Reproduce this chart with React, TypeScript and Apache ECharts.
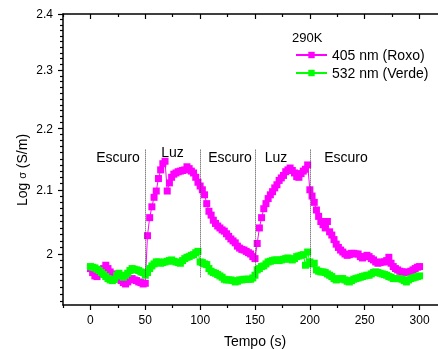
import React, { useEffect, useRef } from 'react';
import * as echarts from 'echarts';

// sampling times (s)
const timeSec: number[] = Array.from({ length: 151 }, (_, i) => i * 2);

// Log sigma values, 405 nm (magenta)
const roxo: number[] = [
  1.978, 1.972, 1.967, 1.966, 1.970, 1.974, 1.978, 1.983, 1.978, 1.973,
  1.970, 1.966, 1.965, 1.962, 1.960, 1.957, 1.955, 1.958, 1.962, 1.963,
  1.961, 1.960, 1.958, 1.957, 1.955, 1.956, 2.028, 2.056, 2.073, 2.088,
  2.098, 2.118, 2.132, 2.142, 2.146, 2.098, 2.111, 2.120, 2.125, 2.127,
  2.129, 2.130, 2.131, 2.132, 2.137, 2.134, 2.130, 2.127, 2.120, 2.112,
  2.106, 2.100, 2.092, 2.078, 2.066, 2.060, 2.052, 2.047, 2.043, 2.040,
  2.037, 2.035, 2.031, 2.027, 2.023, 2.020, 2.017, 2.012, 2.009, 2.007,
  2.006, 2.004, 2.002, 2.000, 1.996, 1.993, 2.016, 2.040, 2.056, 2.070,
  2.078, 2.086, 2.092, 2.097, 2.103, 2.108, 2.115, 2.119, 2.123, 2.129,
  2.132, 2.135, 2.131, 2.127, 2.121, 2.120, 2.126, 2.130, 2.133, 2.140,
  2.100, 2.090, 2.080, 2.068, 2.058, 2.050, 2.045, 2.040, 2.050, 2.034,
  2.029, 2.022, 2.015, 2.010, 2.006, 2.003, 2.000, 1.998, 1.999, 2.001,
  2.001, 2.000, 2.000, 1.996, 1.994, 1.996, 1.998, 1.996, 1.993, 1.991,
  1.988, 1.986, 1.987, 1.988, 1.988, 1.990, 1.995, 1.986, 1.981, 1.978,
  1.976, 1.974, 1.973, 1.972, 1.973, 1.972, 1.974, 1.976, 1.978, 1.980,
  1.981,
];

// Log sigma values, 532 nm (green)
const verde: number[] = [
  1.981, 1.980, 1.979, 1.977, 1.975, 1.972, 1.969, 1.966, 1.963, 1.961,
  1.960, 1.962, 1.968, 1.971, 1.967, 1.965, 1.968, 1.971, 1.975, 1.978,
  1.977, 1.976, 1.975, 1.973, 1.972, 1.968, 1.972, 1.978, 1.982, 1.985,
  1.988, 1.988, 1.986, 1.987, 1.988, 1.989, 1.990, 1.991, 1.989, 1.988,
  1.987, 1.986, 1.990, 1.993, 1.995, 1.996, 1.998, 1.999, 2.002, 2.004,
  1.988, 1.987, 1.985, 1.984, 1.978, 1.974, 1.972, 1.971, 1.969, 1.967,
  1.965, 1.962, 1.961, 1.961, 1.961, 1.960, 1.958, 1.959, 1.961, 1.961,
  1.962, 1.962, 1.962, 1.962, 1.964, 1.968, 1.976, 1.978, 1.981, 1.982,
  1.985, 1.988, 1.989, 1.990, 1.991, 1.991, 1.990, 1.991, 1.992, 1.993,
  1.994, 1.992, 1.991, 1.993, 1.996, 1.997, 1.998, 1.999, 1.983, 2.003,
  1.988, 1.985, 1.986, 1.976, 1.974, 1.973, 1.973, 1.972, 1.970, 1.968,
  1.966, 1.963, 1.961, 1.962, 1.963, 1.963, 1.961, 1.959, 1.958, 1.960,
  1.962, 1.963, 1.964, 1.965, 1.966, 1.967, 1.968, 1.968, 1.970, 1.972,
  1.973, 1.972, 1.971, 1.970, 1.969, 1.968, 1.966, 1.965, 1.963, 1.963,
  1.963, 1.963, 1.962, 1.960, 1.958, 1.961, 1.963, 1.964, 1.965, 1.966,
  1.967,
];

const seriesNames = ['405 nm (Roxo)', '532 nm (Verde)'];
const legendTitle = '290K';
const xTicks = [0, 50, 100, 150, 200, 250, 300];
const xMinorTicks = [-25, 25, 75, 125, 175, 225, 275, 325];
const yTicks = [2.0, 2.1, 2.2, 2.3, 2.4];
const switchTimes = [50, 100, 150, 200];
const phaseLabels = ['Escuro', 'Luz', 'Escuro', 'Luz', 'Escuro'];

const FONT = '"Liberation Sans", Arial, sans-serif';
const L = (v: number) => Math.log10(v);

export default function App() {
  const ref = useRef<HTMLDivElement>(null);
  useEffect(() => {
    if (!ref.current) return;
    const chart = echarts.init(ref.current, undefined, { renderer: 'svg' });
    const yMin = L(1.924);
    const yMax = L(2.4);
    const yMinor: number[] = [];
    for (let k = 193; k <= 239; k++) {
      if (k % 10 !== 0) yMinor.push(L(k / 100));
    }
    const axisLine = { show: true, onZero: false, lineStyle: { color: '#000', width: 1.5 } };
    const noLine = { show: false, onZero: false };
    const tickStyle = { color: '#000', width: 1.2 };
    const baseX = { type: 'value', min: -25, max: 325, gridIndex: 0, splitLine: { show: false } };
    const mkData = (arr: number[]) => timeSec.map((t, i) => [t, L(arr[i])]);
    const phasePx = [
      { x: 118, y: 157 },
      { x: 172.5, y: 152 },
      { x: 230, y: 157 },
      { x: 276, y: 157 },
      { x: 346, y: 157 },
    ];
    chart.setOption({
      animation: false,
      grid: { left: 63, top: 14, width: 384, height: 291, containLabel: false, outerBoundsMode: 'none' },
      xAxis: [
        {
          ...baseX, position: 'bottom', axisLine,
          axisTick: { show: true, inside: false, length: 5, customValues: xTicks, lineStyle: tickStyle },
          axisLabel: { customValues: xTicks, margin: 9, fontSize: 12, color: '#000', fontFamily: FONT },
          name: 'Tempo (s)', nameLocation: 'middle', nameGap: 29,
          nameTextStyle: { fontSize: 14, color: '#000', fontFamily: FONT },
        },
        {
          ...baseX, position: 'bottom', axisLine: noLine,
          axisTick: { show: true, inside: false, length: 3, customValues: xMinorTicks, lineStyle: tickStyle },
          axisLabel: { show: false },
        },
        {
          ...baseX, position: 'top', axisLine,
          axisTick: { show: true, inside: true, length: 5, customValues: xTicks, lineStyle: tickStyle },
          axisLabel: { show: false },
        },
        {
          ...baseX, position: 'top', axisLine: noLine,
          axisTick: { show: true, inside: true, length: 3, customValues: xMinorTicks, lineStyle: tickStyle },
          axisLabel: { show: false },
        },
      ],
      yAxis: [
        {
          type: 'value', min: yMin, max: yMax, position: 'left', axisLine, splitLine: { show: false },
          axisTick: { show: true, inside: false, length: 5, customValues: yTicks.map(L), lineStyle: tickStyle },
          axisLabel: {
            customValues: yTicks.map(L), margin: 10, fontSize: 12, color: '#000', fontFamily: FONT,
            formatter: (v: number) => String(Math.round(Math.pow(10, v) * 10) / 10),
          },
        },
        {
          type: 'value', min: yMin, max: yMax, position: 'left', axisLine: noLine, splitLine: { show: false },
          axisTick: { show: true, inside: false, length: 3, customValues: yMinor, lineStyle: tickStyle },
          axisLabel: { show: false },
        },
      ],
      legend: {
        orient: 'vertical', left: 290, top: 43, itemWidth: 31, itemHeight: 8, itemGap: 4,
        data: seriesNames,
        textStyle: { fontSize: 14, color: '#000', fontFamily: FONT },
      },
      graphic: [
        {
          type: 'text', x: 292, y: 37,
          style: { text: legendTitle, fontSize: 13, fill: '#000', fontFamily: FONT, textVerticalAlign: 'middle' },
        },
        {
          type: 'text', x: 22, y: 170, rotation: Math.PI / 2,
          style: {
            text: 'Log {s|σ} (S/m)', fontSize: 14, fill: '#000', fontFamily: FONT,
            align: 'center', verticalAlign: 'middle',
            rich: { s: { fontSize: 11, fill: '#000', fontFamily: FONT } },
          },
        },
        ...phaseLabels.map((t, i) => ({
          type: 'text', x: phasePx[i].x, y: phasePx[i].y,
          style: { text: t, fontSize: 14, fill: '#000', fontFamily: FONT, align: 'center', verticalAlign: 'middle' },
        })),
      ],
      series: [
        {
          name: seriesNames[0], type: 'line', xAxisIndex: 0, yAxisIndex: 0,
          data: mkData(roxo), symbol: 'rect', symbolSize: 7,
          itemStyle: { color: '#ff00ff' }, lineStyle: { color: '#ff00ff', width: 1 },
          markLine: {
            silent: true, symbol: 'none', label: { show: false },
            lineStyle: { color: '#444', type: 'dotted', width: 1 },
            data: switchTimes.map((t) => [{ coord: [t, L(2.165)] }, { coord: [t, L(1.964)] }]),
          },
          z: 2,
        },
        {
          name: seriesNames[1], type: 'line', xAxisIndex: 0, yAxisIndex: 0,
          data: mkData(verde), symbol: 'rect', symbolSize: 7,
          itemStyle: { color: '#00ff00' }, lineStyle: { color: '#00ff00', width: 1 },
          z: 3,
        },
      ],
    } as any);
    return () => chart.dispose();
  }, []);
  return <div ref={ref} style={{ position: 'fixed', left: 0, top: 0, width: 438, height: 349 }} />;
}
